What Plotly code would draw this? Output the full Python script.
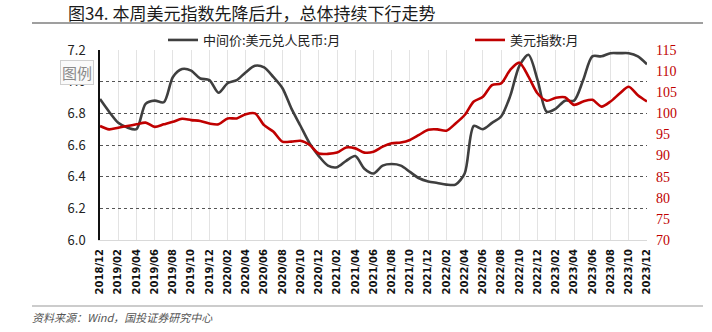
import plotly.graph_objects as go

months = [
    "2018/12",
    "2019/01", "2019/02", "2019/03", "2019/04", "2019/05", "2019/06",
    "2019/07", "2019/08", "2019/09", "2019/10", "2019/11", "2019/12",
    "2020/01", "2020/02", "2020/03", "2020/04", "2020/05", "2020/06",
    "2020/07", "2020/08", "2020/09", "2020/10", "2020/11", "2020/12",
    "2021/01", "2021/02", "2021/03", "2021/04", "2021/05", "2021/06",
    "2021/07", "2021/08", "2021/09", "2021/10", "2021/11", "2021/12",
    "2022/01", "2022/02", "2022/03", "2022/04", "2022/05", "2022/06",
    "2022/07", "2022/08", "2022/09", "2022/10", "2022/11", "2022/12",
    "2023/01", "2023/02", "2023/03", "2023/04", "2023/05", "2023/06",
    "2023/07", "2023/08", "2023/09", "2023/10", "2023/11", "2023/12",
]

# USD/CNY central parity, monthly
usdcny = [
    6.89,
    6.81, 6.74, 6.71, 6.70, 6.86, 6.88,
    6.87, 7.03, 7.08, 7.07, 7.02, 7.01,
    6.93, 6.99, 7.01, 7.06, 7.10, 7.09,
    7.03, 6.96, 6.83, 6.72, 6.61, 6.53,
    6.47, 6.46, 6.50, 6.53, 6.45, 6.42,
    6.47, 6.48, 6.47, 6.43, 6.39, 6.37,
    6.36, 6.35, 6.35, 6.42, 6.72, 6.70,
    6.74, 6.78, 6.91, 7.10, 7.17, 7.01,
    6.81, 6.83, 6.88, 6.88, 7.01, 7.16,
    7.16, 7.18, 7.18, 7.18, 7.16, 7.11,
]

# US dollar index, monthly
dxy = [
    97.0,
    96.2, 96.6, 97.0, 97.4, 97.8, 96.8,
    97.4, 98.0, 98.7, 98.4, 98.2, 97.6,
    97.4, 98.8, 98.8, 99.8, 100.0, 97.2,
    95.7, 93.3, 93.3, 93.5, 92.5, 90.5,
    90.4, 90.7, 91.9, 91.7, 90.7, 90.9,
    92.1, 92.9, 93.1, 93.7, 94.9, 96.1,
    96.2, 95.9, 97.6, 99.6, 102.8, 103.9,
    106.7, 107.1, 110.3, 112.0, 108.7, 104.7,
    103.0, 103.7, 103.8, 102.0, 102.8, 103.2,
    101.6, 102.8, 104.7, 106.3, 104.3, 102.8,
]

left_ticks = [6.0, 6.2, 6.4, 6.6, 6.8, 7.0, 7.2]
right_ticks = [70, 75, 80, 85, 90, 95, 100, 105, 110, 115]
x_ticks = months[::2]

W, H = 712, 332
L, R, T, B = 100, 647, 50, 240


def px(x):
    return (x - L) / (R - L)


def py(y):
    return (B - y) / (B - T)


BLACK = "#3f3f3f"
RED = "#c00000"

fig = go.Figure()
fig.add_trace(go.Scatter(
    x=months, y=usdcny, name="中间价:美元兑人民币:月", mode="lines",
    line=dict(color=BLACK, width=2.6, shape="spline", smoothing=0.8),
    legend="legend",
))
fig.add_trace(go.Scatter(
    x=months, y=dxy, name="美元指数:月", mode="lines",
    line=dict(color=RED, width=2.6, shape="spline", smoothing=0.8),
    yaxis="y2", legend="legend2",
))

legend_font = dict(family="Noto Sans CJK SC", size=13, color="#222222")

fig.update_layout(
    width=W, height=H,
    margin=dict(l=L, r=W - R, t=T, b=H - B),
    paper_bgcolor="white", plot_bgcolor="white",
    showlegend=True,
    legend=dict(
        x=px(163), y=py(40), xanchor="left", yanchor="middle",
        orientation="h", font=legend_font, bgcolor="rgba(0,0,0,0)",
        itemwidth=30, tracegroupgap=0,
    ),
    legend2=dict(
        x=px(470), y=py(40), xanchor="left", yanchor="middle",
        orientation="h", font=legend_font, bgcolor="rgba(0,0,0,0)",
        itemwidth=30,
    ),
    xaxis=dict(
        type="category", range=[0, len(months) - 1],
        tickmode="array", tickvals=x_ticks, ticktext=x_ticks,
        tickangle=-90, ticks="",
        tickfont=dict(family="DejaVu Sans", size=10, color="#111111", weight="bold"),
        ticklabelstandoff=4,
        showgrid=True, gridcolor="#e3e3e3", gridwidth=1,
        showline=True, linecolor="#d9d9d9", linewidth=1,
        zeroline=False,
    ),
    yaxis=dict(
        range=[6.0, 7.2], tickmode="array", tickvals=left_ticks,
        tickformat=".1f", ticks="",
        tickfont=dict(family="Noto Sans CJK SC", size=13, color="#222222"),
        ticklabelstandoff=10,
        showgrid=True, gridcolor="#555555", gridwidth=1, griddash="dot",
        showline=True, linecolor="#111111", linewidth=1.5,
        zeroline=False,
    ),
    yaxis2=dict(
        range=[70, 115], tickmode="array", tickvals=right_ticks,
        overlaying="y", side="right", ticks="",
        tickfont=dict(family="Liberation Sans Narrow", size=14, color=RED),
        ticklabelstandoff=8,
        showgrid=False, showline=False, zeroline=False,
    ),
)

# title and separator rules
fig.add_annotation(
    text="图34. 本周美元指数先降后升，总体持续下行走势",
    xref="paper", yref="paper", x=px(66), y=py(12),
    xanchor="left", yanchor="middle", showarrow=False,
    font=dict(family="Noto Sans CJK SC", size=17, color="#1a1a1a"),
)
fig.add_shape(type="line", xref="paper", yref="paper",
              x0=px(32), x1=px(703), y0=py(23), y1=py(23),
              line=dict(color="#7f7f7f", width=1.5))
fig.add_shape(type="line", xref="paper", yref="paper",
              x0=px(32), x1=px(703), y0=py(306), y1=py(306),
              line=dict(color="#9a9a9a", width=1.2))

# source note
fig.add_annotation(
    text="<i>资料来源：Wind，国投证券研究中心</i>",
    xref="paper", yref="paper", x=px(30), y=py(317),
    xanchor="left", yanchor="middle", showarrow=False,
    font=dict(family="Noto Sans CJK SC", size=11, color="#555555"),
)

# legend button
fig.add_annotation(
    text="图例",
    xref="paper", yref="paper", x=px(77), y=py(72),
    xanchor="center", yanchor="middle", showarrow=False,
    font=dict(family="Noto Sans CJK SC", size=15, color="#8a8a8a"),
    bgcolor="#fafafa", bordercolor="#cfcfcf", borderwidth=1, borderpad=1,
)

fig.write_html("out.html")
